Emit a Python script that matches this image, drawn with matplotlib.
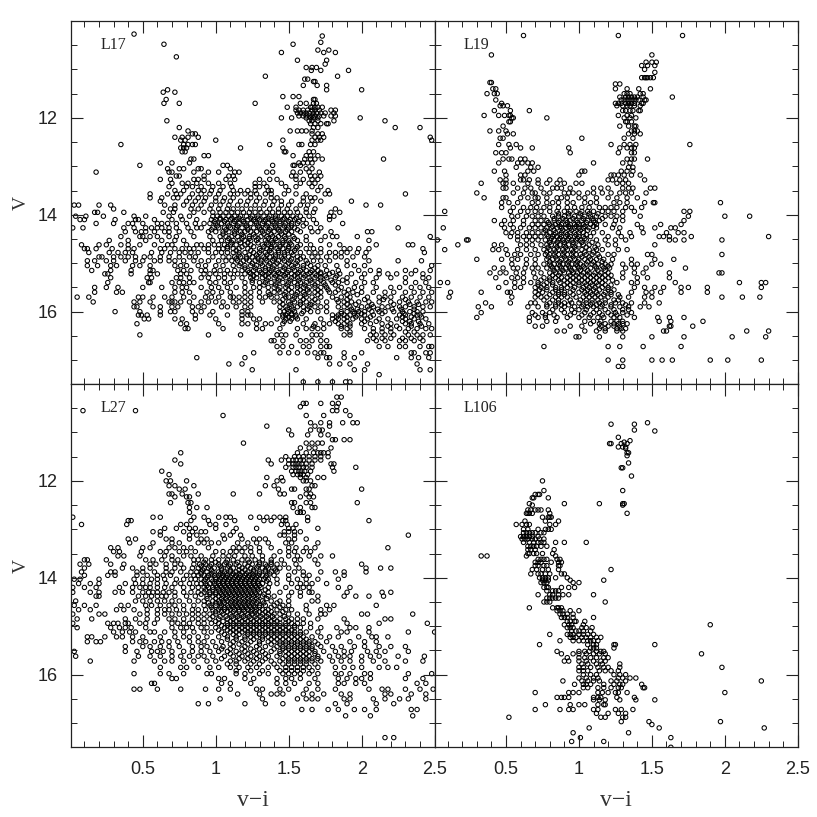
import matplotlib
matplotlib.use("Agg")
import matplotlib.pyplot as plt
from matplotlib.ticker import MultipleLocator, FixedLocator, FuncFormatter

# Each dict: V magnitude -> list of v-i colours
l17 = {
10.27:[0.44],10.31:[1.73],10.44:[1.72],10.48:[0.645,1.53],10.6:[1.70,1.775],10.65:[1.45,1.74,1.82],10.74:[0.73],10.81:[1.56,1.76],10.89:[1.75],
10.96:[1.62,1.69,1.66],11.02:[1.655,1.72,1.91],11.14:[1.34,1.835],11.2:[1.61,1.63],11.25:[1.67,1.68],11.33:[1.6,1.695,1.76],11.42:[0.67,2.0,1.76],
11.47:[0.64,0.72],11.56:[1.46,1.53,1.57],11.62:[0.66,1.68,1.67],11.7:[0.645,0.75,1.27,1.58,1.62,1.67,1.69],11.78:[1.49,1.68,1.55,1.65,1.66,1.7,1.73],
11.84:[1.55,1.57,1.6,1.63,1.66,1.68,1.71,1.82,1.79],11.9:[1.56,1.58,1.6,1.62,1.64,1.67,1.69,1.72,1.75,1.81],11.96:[1.57,1.6,1.62,1.64,1.66,1.68,1.71,1.74,1.82,1.79],
12.0:[1.45,1.52,1.62,1.65,1.67,1.7,1.99],12.06:[0.665,1.64,1.66,1.7,2.16,1.81],12.12:[1.65,1.68,1.72,1.77,1.76],12.2:[0.75,1.67,1.7,2.23,2.4],
12.27:[1.51,1.56,1.59,1.62,1.66,0.81],12.33:[0.84,0.86,1.66,1.7,1.73],12.4:[0.72,0.77,0.81,0.88,1.68,1.71,1.74,2.47],12.46:[0.76,0.79,1.46,1.66,1.7,1.72,1.0,2.48],
12.55:[0.35,0.78,0.81,0.84,0.86,1.37,1.57,1.59,1.65,1.68],12.62:[0.76,0.78,0.8,1.46,1.17],12.7:[0.77,0.79,1.47,1.48,1.64,1.67],12.78:[0.92,0.95,1.53,1.62,1.65,1.7],
12.85:[0.83,0.85,1.61,1.65,1.68,2.15,1.73],12.93:[0.62,0.7,0.82,1.57,1.6,1.63,1.66],12.98:[0.48,1.39,1.53,1.05,1.08,1.54,1.58],13.05:[0.67,0.75,0.78,0.88,0.9,1.62,1.66,1.1],
13.12:[0.18,0.68,0.7,0.85,0.95,1.02,1.13,1.16,1.35,1.39,1.53,1.58,1.64,1.71],13.2:[0.73,0.75,0.92,1.09,1.12,1.52,1.55,1.65,1.68,1.72],
13.27:[0.62,0.69,0.85,0.88,0.92,1.07,1.13,1.3,1.37,1.42,1.55,1.6,1.66,1.7],13.35:[0.7,0.77,0.81,0.87,0.95,1.02,1.1,1.27,1.33,1.45,1.58,1.64,1.68],
13.42:[0.68,0.8,0.84,0.9,0.98,1.05,1.11,1.27,1.3,1.35,1.48,1.55,1.66,1.72],13.5:[0.72,0.78,0.88,0.92,0.97,1.03,1.12,1.17,1.22,1.27,1.36,1.38,1.5,1.7,1.77],
13.57:[0.55,0.67,0.73,0.76,0.84,0.9,0.96,1.02,1.1,1.15,1.2,1.24,1.28,1.34,1.38,1.47,1.55,1.62,1.75,1.78,2.3],13.65:[0.55,0.63,0.71,0.74,0.82,0.88,0.93,1.0,1.06,1.12,1.24,1.3,1.38,1.42,1.6,1.65,1.68],
13.72:[0.62,0.8,0.86,0.92,1.0,1.05,1.1,1.17,1.22,1.28,1.34,1.4,1.45,1.52,1.6,1.66,1.72,1.93],13.8:[0.03,0.06,0.2,0.28,0.65,0.72,0.78,0.84,0.9,0.97,1.03,1.09,1.15,1.21,1.27,1.33,1.39,1.45,1.5,1.58,1.63,2.03,2.13],
13.88:[0.3,0.69,0.72,0.83,0.88,0.96,1.02,1.08,1.12,1.18,1.24,1.3,1.37,1.43,1.49,1.55,1.62,1.68,1.82],13.95:[0.17,0.19,0.37,0.64,0.71,0.85,0.92,0.98,1.03,1.07,1.11,1.15,1.19,1.23,1.27,1.31,1.35,1.39,1.43,1.47,1.51,1.56,1.62,1.67,1.79,1.85],
14.03:[0.04,0.11,0.23,0.44,0.52,0.68,0.76,0.82,0.98,1.01,1.05,1.09,1.13,1.17,1.21,1.25,1.29,1.33,1.37,1.41,1.45,1.49,1.53,1.58,1.64,1.78,1.81],
14.1:[0.07,0.1,0.31,0.45,0.47,0.58,0.7,0.77,0.87,0.97,1.0,1.03,1.07,1.1,1.14,1.18,1.22,1.26,1.3,1.34,1.38,1.42,1.46,1.51,1.54,1.6,1.67,1.78],
14.18:[0.18,0.3,0.4,0.43,0.5,0.6,0.63,0.67,0.73,0.8,0.86,0.92,0.96,1.0,1.04,1.08,1.12,1.16,1.2,1.24,1.28,1.32,1.36,1.4,1.44,1.48,1.52,1.56,1.62,1.69,1.87],
14.27:[0.02,0.09,0.37,0.44,0.52,0.56,0.6,0.63,0.68,0.73,0.81,0.87,0.9,0.98,1.02,1.06,1.1,1.14,1.18,1.22,1.26,1.3,1.34,1.38,1.42,1.46,1.5,1.54,1.65,1.72,2.25],
14.35:[0.38,0.45,0.49,0.52,0.58,0.65,0.68,0.75,0.83,0.95,1.0,1.05,1.09,1.13,1.17,1.2,1.24,1.28,1.32,1.36,1.4,1.44,1.48,1.52,1.58,1.66,1.7,1.79,2.07,2.04],
14.45:[0.35,0.48,0.5,0.55,0.6,0.68,0.73,0.85,0.96,1.03,1.07,1.11,1.15,1.19,1.23,1.27,1.31,1.35,1.39,1.43,1.47,1.53,1.62,1.75,1.8,1.83,1.97,2.47],
14.53:[0.27,0.4,0.52,0.63,0.72,0.78,0.98,1.04,1.08,1.12,1.16,1.2,1.24,1.28,1.34,1.38,1.42,1.46,1.5,1.56,1.62,1.72,2.05],
14.62:[0.08,0.2,0.25,0.35,0.4,0.48,0.58,0.67,0.7,0.8,0.87,0.9,0.95,0.99,1.02,1.06,1.1,1.14,1.2,1.24,1.32,1.36,1.4,1.44,1.48,1.52,1.58,1.65,1.78,1.85,2.1,2.32,2.35],
14.7:[0.1,0.12,0.18,0.29,0.4,0.44,0.62,0.65,0.72,0.77,0.82,0.85,0.92,0.95,1.02,1.05,1.08,1.12,1.16,1.22,1.3,1.35,1.38,1.42,1.46,1.5,1.55,1.62,1.67,1.72,1.88,1.92,1.98,2.05,2.42],
14.78:[0.13,0.27,0.33,0.38,0.43,0.56,0.63,0.69,0.75,0.79,0.83,0.88,0.95,1.0,1.04,1.08,1.12,1.16,1.2,1.26,1.3,1.34,1.38,1.43,1.47,1.52,1.58,1.64,1.68,1.72,1.78,1.82,1.86,1.9,1.97,2.03,2.43],
14.87:[0.2,0.22,0.3,0.35,0.4,0.45,0.51,0.55,0.62,0.68,0.75,0.82,0.86,0.98,1.05,1.09,1.13,1.17,1.21,1.25,1.29,1.33,1.37,1.41,1.45,1.5,1.56,1.6,1.66,1.7,1.76,1.82,1.86,1.94,2.02],
14.95:[0.12,0.17,0.25,0.3,0.38,0.45,0.5,0.58,0.62,0.68,0.72,0.78,0.85,0.9,0.95,1.02,1.07,1.11,1.15,1.19,1.23,1.27,1.31,1.35,1.39,1.43,1.47,1.51,1.56,1.62,1.67,1.72,1.78,1.9,2.05,2.25,2.41],
15.05:[0.12,0.19,0.28,0.32,0.43,0.48,0.55,0.72,0.76,0.8,0.88,0.93,1.0,1.05,1.12,1.16,1.2,1.24,1.28,1.32,1.36,1.4,1.44,1.48,1.52,1.56,1.6,1.65,1.7,1.75,1.83,1.9,1.95,2.02,2.48],
15.15:[0.15,0.28,0.42,0.55,0.57,0.74,0.78,0.83,0.9,0.93,0.99,1.03,1.08,1.13,1.18,1.22,1.26,1.3,1.34,1.38,1.42,1.46,1.5,1.54,1.58,1.62,1.66,1.7,1.76,1.84,1.98,2.06,2.12,2.3,2.37,2.47],
15.22:[0.24,0.26,0.42,0.55,0.6,0.76,0.8,0.92,0.96,1.0,1.06,1.1,1.15,1.2,1.24,1.28,1.32,1.36,1.4,1.44,1.48,1.52,1.56,1.6,1.64,1.68,1.72,1.78,1.85,1.93,2.02,2.12,2.18,2.24,2.34,2.42],
15.3:[0.28,0.53,0.56,0.73,0.76,0.82,0.9,0.95,1.02,1.06,1.12,1.18,1.24,1.28,1.32,1.36,1.4,1.44,1.48,1.52,1.56,1.6,1.64,1.68,1.72,1.76,1.82,1.9,2.0,2.1,2.2,2.3,2.42,2.46],
15.4:[0.26,0.54,0.55,0.7,0.75,0.78,0.82,0.85,0.96,1.0,1.06,1.1,1.2,1.25,1.3,1.34,1.38,1.42,1.46,1.5,1.54,1.58,1.62,1.66,1.7,1.74,1.8,1.84,1.9,1.96,2.02,2.08,2.3,2.37,2.44],
15.5:[0.17,0.25,0.33,0.5,0.63,0.72,0.77,0.8,0.9,0.97,1.02,1.08,1.14,1.2,1.26,1.3,1.36,1.4,1.44,1.48,1.52,1.56,1.6,1.64,1.68,1.72,1.76,1.86,1.95,2.0,2.1,2.2,2.26,2.34,2.4,2.46],
15.6:[0.17,0.32,0.36,0.72,0.77,0.82,0.94,0.98,1.04,1.1,1.2,1.24,1.3,1.36,1.4,1.44,1.48,1.52,1.56,1.6,1.64,1.68,1.72,1.78,1.82,1.88,1.94,2.0,2.08,2.16,2.22,2.3,2.36,2.42,2.48],
15.7:[0.05,0.13,0.47,0.5,0.57,0.65,0.7,0.78,0.85,0.93,0.97,1.02,1.1,1.12,1.16,1.2,1.24,1.3,1.34,1.38,1.42,1.48,1.5,1.54,1.58,1.62,1.66,1.72,1.8,1.86,1.92,2.04,2.12,2.16,2.2,2.28,2.34,2.4,2.46],
15.8:[0.16,0.44,0.48,0.55,0.68,0.7,0.72,0.76,0.82,0.9,0.95,1.0,1.05,1.12,1.16,1.2,1.24,1.32,1.4,1.44,1.5,1.54,1.58,1.62,1.66,1.7,1.76,1.84,1.88,1.93,1.98,2.05,2.12,2.2,2.26,2.32,2.38,2.44,2.48],
15.9:[0.44,0.46,0.57,0.62,0.7,0.74,0.84,0.88,0.92,1.04,1.08,1.14,1.2,1.24,1.44,1.48,1.52,1.56,1.6,1.64,1.68,1.72,1.76,1.84,1.88,1.92,2.0,2.04,2.08,2.14,2.18,2.26,2.3,2.36,2.42,2.47],
16.0:[0.31,0.48,0.62,0.69,0.72,0.84,0.9,0.98,1.18,1.22,1.44,1.47,1.5,1.54,1.6,1.65,1.7,1.76,1.86,1.9,1.94,1.98,2.02,2.07,2.12,2.16,2.22,2.28,2.33,2.38,2.42],
16.07:[0.47,0.49,0.53,0.62,0.86,0.96,1.08,1.18,1.22,1.24,1.46,1.48,1.52,1.55,1.8,1.84,1.88,1.92,1.97,2.02,2.08,2.26,2.3,2.38,2.4],
16.15:[0.51,0.54,0.72,0.77,0.86,1.0,1.18,1.26,1.3,1.42,1.48,1.52,1.56,1.62,1.72,1.8,1.84,1.88,1.94,2.0,2.04,2.12,2.18,2.24,2.3,2.36,2.44],
16.25:[0.46,0.76,0.8,1.02,1.18,1.22,1.28,1.34,1.38,1.46,1.6,1.68,1.74,1.78,1.84,1.88,1.92,2.0,2.06,2.14,2.2,2.3,2.34,2.4,2.46],
16.35:[0.79,0.81,1.05,1.28,1.32,1.44,1.56,1.62,1.66,1.7,1.74,1.86,1.9,2.02,2.08,2.14,2.2,2.26,2.32,2.38,2.44,2.48],
16.48:[0.48,0.95,1.17,1.42,1.45,1.48,1.55,1.66,1.69,1.72,1.88,1.92,2.06,2.1,2.16,2.22,2.32,2.38,2.42,2.47],
16.6:[1.38,1.4,1.46,1.58,1.62,1.66,1.72,1.76,2.04,2.1,2.16,2.26,2.3,2.36,2.42],
16.72:[1.42,1.46,1.52,1.6,1.64,1.72,1.76,1.78,2.12,2.18,2.26,2.3,2.4,2.46,2.48],
16.85:[1.26,1.44,1.5,1.56,1.63,1.68,1.72,1.74,1.88,2.0,2.34,2.36,2.44,2.47],
16.95:[0.87,1.2,1.7,1.76,1.78,1.88,1.95,2.24,2.34,2.39,2.46],
17.08:[1.09,1.18,1.78,1.85,1.92,2.04,2.38],17.2:[1.25,1.55,1.95,2.02,2.47,2.4],17.3:[2.12],17.45:[1.6,1.7,1.8,1.89,1.92],
}
l17_core = {
14.07:[1.03,1.11,1.16,1.24,1.29,1.36,1.41,1.47,1.55],14.14:[0.99,1.06,1.13,1.19,1.27,1.33,1.39,1.44,1.5,1.57],14.23:[1.01,1.09,1.15,1.21,1.29,1.35,1.41,1.47,1.52,1.6],
14.31:[0.97,1.07,1.14,1.22,1.31,1.37,1.43,1.49,1.56],14.4:[1.05,1.13,1.18,1.26,1.33,1.38,1.45,1.5],14.49:[1.09,1.18,1.23,1.29,1.36,1.41,1.48,1.54],
14.58:[1.11,1.17,1.22,1.29,1.35,1.39,1.46,1.51],14.66:[1.08,1.18,1.26,1.33,1.38,1.44,1.5,1.56],14.74:[1.14,1.24,1.31,1.37,1.43,1.49,1.54],14.83:[1.16,1.23,1.28,1.35,1.41,1.47,1.53],
14.91:[1.14,1.21,1.29,1.34,1.4,1.46,1.52,1.58],15.0:[1.17,1.25,1.31,1.37,1.42,1.5,1.55,1.63],15.1:[1.2,1.27,1.34,1.39,1.47,1.53,1.6,1.68],15.19:[1.23,1.31,1.37,1.43,1.49,1.57,1.65,1.72,1.8],
15.26:[1.26,1.34,1.41,1.47,1.54,1.61,1.69,1.75,1.83],15.35:[1.25,1.35,1.43,1.51,1.57,1.65,1.72,1.79,1.87],15.45:[1.33,1.41,1.49,1.56,1.61,1.68,1.75,1.82],
15.55:[1.43,1.5,1.58,1.63,1.7,1.77,1.84,1.91],15.65:[1.37,1.47,1.55,1.61,1.7,1.9,1.97],15.75:[1.46,1.53,1.6,1.68,1.83,1.9,2.02,2.15,2.3],15.85:[1.46,1.51,1.58,1.65,1.9,1.96,2.07,2.22,2.33,2.39],
15.95:[1.49,1.53,1.63,1.93,1.97,2.05,2.11,2.21,2.27,2.36],16.04:[1.49,1.52,1.59,1.86,1.95,2.0,2.14,2.29,2.36],16.11:[1.46,1.5,1.55,1.83,1.9,1.96,2.06,2.28,2.34,2.41],
16.2:[1.47,1.51,1.82,1.9,2.02,2.1,2.28,2.33,2.39],16.3:[1.67,1.86,1.92,2.18,2.24,2.34,2.41],16.42:[1.92,2.08,2.14,2.2,2.3,2.36],16.55:[2.08,2.14,2.2,2.28,2.34,2.4],
}

l19 = {
10.3:[0.62,1.27,1.71],10.7:[0.4,1.5],10.85:[1.46,1.53,1.5],10.92:[1.43,1.47,1.52],11.0:[1.45],11.06:[1.52],11.17:[1.45,1.47,1.49,1.43,1.46,1.51],
11.27:[0.39,0.4],11.3:[1.28,1.25],11.4:[0.41,0.43,1.25,1.33,1.49,1.41],11.5:[0.37,0.42,0.44,1.31,1.33,1.35,1.42,1.44],11.57:[1.28,1.32,1.34,1.36,1.38,1.4,1.44,1.64],
11.63:[0.43,1.29,1.31,1.33,1.35,1.37,1.39,1.41,1.45,1.46],11.7:[0.47,1.25,1.27,1.29,1.32,1.34,1.36,1.38,1.43,1.44],11.75:[0.46,0.48,0.51,1.26,1.3,1.33,1.35,1.38,1.42],
11.85:[0.42,0.66,0.53,1.3,1.32,1.35,1.37,1.42,1.41],11.95:[0.35,0.45,0.49,0.52,0.53,1.27,1.33,1.36],12.0:[0.54,0.55,0.78,1.31,1.35,1.39],
12.08:[0.52,0.53,1.32,1.36,1.33],12.17:[0.48,1.28,1.34,1.38,1.39],12.27:[0.39,0.45,0.5,1.38,1.36,1.4],12.33:[0.51,0.55,1.34,1.38,1.42],12.42:[0.48,1.02,1.31,1.37,0.46],
12.55:[0.45,0.52,0.57,1.22,1.76,1.31,1.35,1.39],12.62:[0.53,0.6,0.68,0.93,1.28,1.33,1.36,1.38],12.72:[0.43,0.47,0.5,0.94,1.27,1.36,1.38],
12.85:[0.48,0.52,0.54,0.6,0.63,1.33,1.36,1.38,1.47],12.93:[0.45,0.58,0.61,0.65,0.68,1.1,1.3,1.35],13.02:[0.57,0.67,0.72,1.34,1.37],13.1:[0.42,0.49,0.65,0.69,1.02,1.04,1.29,1.33,1.37],
13.18:[0.5,0.6,0.63,1.0,1.22,1.24,1.27,1.31,1.36,1.42],13.28:[0.46,0.5,0.6,0.62,0.66,0.72,0.8,0.87,1.2,1.23,1.28,1.32,1.45],13.35:[0.33,0.48,0.5,0.55,0.65,0.72,0.78,0.85,0.9,0.98,1.02,1.26,1.3,1.34],
13.45:[0.48,0.5,0.58,0.63,0.67,0.74,0.82,0.85,0.88,0.94,1.1,1.15,1.2,1.3,1.34,1.37,1.49,1.52],13.55:[0.3,0.55,0.62,0.68,0.7,0.76,0.8,0.9,0.93,0.96,1.0,1.06,1.1,1.16,1.22,1.28,1.32,1.36,1.46],
13.65:[0.35,0.48,0.5,0.6,0.65,0.7,0.72,0.78,0.85,0.88,0.92,1.0,1.04,1.12,1.2,1.26,1.33,1.4],13.75:[0.47,0.52,0.58,0.68,0.72,0.78,0.82,0.86,0.92,0.96,1.04,1.08,1.12,1.24,1.28,1.33,1.45,1.51,1.52,1.97],
13.85:[0.47,0.55,0.62,0.67,0.71,0.76,0.8,0.86,0.92,0.97,1.02,1.07,1.14,1.18,1.22,1.26,1.32,1.36,1.43],13.93:[0.08,0.53,0.6,0.65,0.7,0.74,0.8,0.85,0.9,0.94,0.98,1.02,1.06,1.1,1.16,1.2,1.24,1.3,1.38,1.72,1.76],
14.03:[0.54,0.58,0.64,0.68,0.72,0.76,0.82,0.86,0.9,0.93,0.97,1.0,1.04,1.08,1.12,1.18,1.22,1.26,1.3,1.42,1.75,2.0,2.17],
14.12:[0.42,0.49,0.55,0.62,0.7,0.74,0.78,0.83,0.87,0.91,0.94,0.98,1.02,1.06,1.1,1.14,1.25,1.3,1.72],14.2:[0.47,0.53,0.62,0.68,0.72,0.76,0.8,0.84,0.88,0.91,0.94,0.97,1.0,1.03,1.08,1.12,1.18,1.24,1.4,1.56,1.7],
14.27:[0.07,0.49,0.55,0.6,0.66,0.7,0.74,0.78,0.81,0.85,0.88,0.91,0.94,0.97,1.0,1.03,1.07,1.12,1.23,1.28,1.43,1.52,1.63,1.66],14.37:[0.5,0.54,0.58,0.64,0.68,0.72,0.76,0.8,0.84,0.88,0.91,0.94,0.97,1.0,1.03,1.1,1.16,1.27,1.35,1.44,1.6,1.68,1.72],
14.45:[0.53,0.58,0.62,0.66,0.7,0.74,0.79,0.82,0.85,0.88,0.91,0.94,0.97,1.0,1.03,1.08,1.2,1.29,1.36,1.55,1.58,1.62,1.77,2.3],14.52:[0.03,0.23,0.24,0.58,0.64,0.68,0.72,0.77,0.8,0.83,0.86,0.89,0.92,0.95,0.98,1.01,1.05,1.12,1.18,1.25,1.32,1.62,1.66,1.72,1.98],
14.62:[0.17,0.42,0.47,0.6,0.64,0.68,0.74,0.78,0.81,0.84,0.87,0.9,0.93,0.96,1.0,1.03,1.07,1.13,1.2,1.25,1.52],14.72:[0.08,0.41,0.45,0.5,0.58,0.64,0.7,0.76,0.8,0.83,0.86,0.89,0.92,0.95,0.98,1.02,1.07,1.12,1.16,1.27,1.33],
14.82:[0.51,0.56,0.6,0.67,0.72,0.77,0.8,0.83,0.86,0.89,0.92,0.95,0.98,1.01,1.05,1.09,1.13,1.2,1.24,1.47,1.5,1.98],14.92:[0.3,0.47,0.54,0.58,0.64,0.7,0.78,0.82,0.85,0.88,0.91,0.94,0.97,1.0,1.04,1.08,1.12,1.17,1.23,1.36,1.52,1.65],
15.02:[0.54,0.64,0.7,0.76,0.8,0.83,0.86,0.89,0.92,0.95,0.98,1.01,1.05,1.09,1.13,1.18,1.22,1.3,1.36,1.4,1.5,1.56],15.1:[0.42,0.48,0.55,0.58,0.63,0.68,0.72,0.78,0.82,0.85,0.88,0.91,0.94,0.97,1.0,1.04,1.08,1.12,1.17,1.21,1.32,1.38,1.46,1.73],
15.2:[0.39,0.46,0.5,0.57,0.62,0.69,0.74,0.8,0.84,0.87,0.9,0.93,0.96,0.99,1.03,1.07,1.11,1.15,1.2,1.3,1.38,1.44,1.62,1.96,1.98],15.3:[0.43,0.54,0.58,0.62,0.7,0.76,0.8,0.84,0.88,0.92,0.96,1.0,1.04,1.08,1.12,1.16,1.2,1.3,1.4,1.47,1.62],
15.4:[0.05,0.1,0.5,0.56,0.62,0.67,0.72,0.78,0.82,0.87,0.92,0.96,1.0,1.04,1.08,1.12,1.16,1.26,1.36,1.4,1.66,2.1,2.28,2.25],15.5:[0.45,0.56,0.6,0.7,0.74,0.78,0.84,0.88,0.92,0.97,1.03,1.07,1.11,1.16,1.2,1.38,1.45,1.52,1.58,1.7,1.75,1.88,2.25],
15.6:[0.12,0.33,0.51,0.53,0.7,0.75,0.82,0.86,0.9,0.94,1.0,1.04,1.08,1.12,1.18,1.22,1.36,1.46,1.5,1.56,1.7,1.88],15.7:[0.11,0.54,0.7,0.74,0.78,0.84,0.88,0.92,0.98,1.03,1.07,1.11,1.15,1.2,1.28,1.34,1.45,1.5,1.98,2.12,2.24],
15.82:[0.36,0.53,0.67,0.7,0.8,0.86,0.9,0.95,1.0,1.05,1.09,1.14,1.18,1.25,1.3,1.36,1.45,1.55],15.9:[0.31,0.4,0.65,0.72,0.78,0.84,0.9,0.97,1.02,1.06,1.1,1.15,1.22,1.28,1.34,1.42,1.48],
16.02:[0.33,0.68,0.75,0.8,0.9,0.97,1.04,1.1,1.14,1.2,1.25,1.3,1.36],16.12:[0.3,0.66,0.72,0.77,0.85,0.92,1.0,1.07,1.13,1.17,1.24,1.28,1.38,1.54,1.62,1.72],
16.2:[0.66,0.78,0.84,1.04,1.1,1.15,1.22,1.26,1.3,1.55,1.63,1.85],16.3:[0.7,0.75,0.94,1.02,1.15,1.2,1.24,1.28,1.63,1.78,1.62],16.4:[0.85,0.9,1.04,1.12,1.18,1.26,1.3,1.6,1.58,2.15,2.3],
16.52:[0.98,1.0,1.14,1.3,1.5,2.05,2.28,1.72],16.72:[0.76,1.2,1.28,1.44,1.7],17.0:[1.2,1.3,1.5,1.57,1.64,1.9,2.02,2.25],17.13:[1.3,1.27],
}
l19_core = {
13.98:[0.86,0.93,1.01,1.07,1.13],14.08:[0.83,0.89,0.96,1.03,1.09,1.16],14.16:[0.79,0.86,0.92,0.99,1.05,1.11],14.24:[0.82,0.87,0.93,0.98,1.04,1.1],14.32:[0.77,0.83,0.89,0.95,1.01,1.06],
14.41:[0.78,0.83,0.87,0.92,0.98,1.05],14.49:[0.81,0.87,0.93,0.99,1.04],14.57:[0.8,0.85,0.9,0.96,1.02,1.09],14.67:[0.79,0.85,0.91,0.97,1.05,1.11],14.77:[0.78,0.84,0.9,0.96,1.04,1.1],
14.87:[0.79,0.84,0.9,0.96,1.02,1.07,1.14],14.97:[0.8,0.87,0.93,0.99,1.06,1.1,1.16],15.06:[0.81,0.87,0.93,0.99,1.03,1.11,1.16,1.2],15.15:[0.83,0.89,0.95,1.01,1.06,1.13,1.18],
15.25:[0.82,0.86,0.94,0.98,1.02,1.06,1.1,1.14,1.18,1.22],15.35:[0.74,0.8,0.86,0.9,0.94,0.98,1.02,1.06,1.1,1.14,1.18,1.23],15.45:[0.72,0.76,0.82,0.9,0.94,1.0,1.05,1.09,1.13,1.18,1.22],
15.55:[0.73,0.78,0.84,0.88,0.96,1.02,1.06,1.1,1.14,1.2,1.24],15.65:[0.72,0.8,0.86,0.9,0.96,1.05,1.09,1.13,1.17,1.22,1.27],15.76:[0.76,0.82,0.86,0.94,1.01,1.05,1.09,1.13,1.18,1.24,1.27],
15.86:[0.78,0.84,0.88,0.93,1.03,1.08,1.12,1.16,1.22,1.32],15.96:[0.82,0.88,0.95,1.0,1.05,1.12,1.18,1.24,1.3,1.34],16.07:[0.7,0.77,0.83,0.94,1.02,1.08,1.16,1.22,1.26,1.33],
16.25:[1.08,1.14,1.18,1.24,1.27,1.3,1.33],16.35:[1.14,1.18,1.26,1.29,1.32],
}

l27 = {
10.27:[1.83,1.86],10.4:[1.6,1.62,1.72,1.8,1.84],10.47:[1.58,1.83],10.55:[0.09,0.45,1.8,1.83,1.89],10.65:[1.05,1.62,1.74,1.92],10.8:[1.65,1.72,1.78,1.87,1.94,1.97],
10.87:[1.35,1.68,1.78],10.95:[1.5,1.65,1.71,1.73],11.05:[1.52,1.63,1.72,1.77],11.15:[1.8,1.82,1.88,1.92],11.22:[1.19,1.62,1.66,1.7,1.73],11.32:[1.58,1.64,1.68,1.79],
11.42:[0.76,1.56,1.62,1.67,1.7,1.72,1.74,1.77],11.5:[1.48,1.54,1.57,1.6,1.64,1.68,1.72,1.77],11.57:[0.72,1.36,1.45,1.5,1.53,1.55,1.58,1.6,1.64,1.68,1.72],
11.65:[0.76,1.38,1.5,1.53,1.55,1.57,1.59,1.62,1.66,1.79,1.81],11.72:[1.48,1.53,1.55,1.57,1.6,1.62,1.66,1.8,1.96],11.8:[0.63,1.52,1.55,1.57,1.59,1.61,1.65,1.81],
11.87:[0.68,1.53,1.56,1.58,1.6,1.63],11.93:[1.35,1.45,1.58,1.62,1.7,1.74],12.0:[0.66,0.69,0.8,1.42,1.46,1.6,1.62,1.65],12.1:[0.68,0.72,0.85,1.34,1.4,1.66,1.68],
12.17:[0.75,0.79,1.43,1.52,1.54,1.62,1.64,2.0],12.27:[0.68,0.7,0.77,1.12,1.3,1.44,1.47,1.62,1.65,0.88],12.33:[0.72,0.8,0.82,1.58,1.64,1.67],12.45:[0.69,0.81,0.83,1.52,1.54,1.62,1.65,1.97],
12.55:[0.82,0.87,0.94,1.53,1.58,1.66,1.68],12.65:[0.82,1.56,1.58,1.6],12.75:[0.02,0.57,0.62,0.85,0.92,1.02,1.07,1.1,1.24,1.3,1.35,1.4,1.44,1.48,1.63],
12.82:[0.4,0.42,0.83,0.95,1.13,1.33,1.38,1.46,1.48,1.63,2.05],12.9:[0.08,0.39,0.76,0.8,0.96,1.0,1.07,1.45,1.49,1.55],12.98:[0.65,0.73,0.82,0.86,1.0,1.14,1.28,1.5,1.53,1.7],
13.05:[0.57,0.62,0.78,0.84,0.9,0.93,1.12,1.47,1.5,1.54,1.58],13.12:[0.62,0.82,0.87,1.05,1.1,1.17,1.44,1.47,1.54,2.32],13.2:[0.4,0.45,0.66,0.7,0.82,0.9,0.94,1.06,1.18,1.26,1.3,1.34,1.5,1.54,1.62],
13.28:[0.41,0.57,0.7,0.75,0.88,0.92,0.97,1.02,1.15,1.22,1.28,1.36,1.48,1.52,1.7],13.38:[0.28,0.33,0.5,0.55,0.68,0.72,0.78,0.83,0.95,1.12,1.16,1.2,1.24,1.3,1.38,1.5,1.55,1.62,1.68,2.18],
13.46:[0.3,0.34,0.49,0.62,0.66,0.75,0.8,0.86,1.0,1.05,1.1,1.14,1.18,1.24,1.3,1.44,1.5,1.54,1.6,1.65],13.55:[0.33,0.37,0.48,0.65,0.7,0.78,0.83,0.9,0.98,1.05,1.09,1.13,1.2,1.25,1.32,1.4,1.5,1.56,1.64,1.72,1.8],
13.63:[0.1,0.12,0.25,0.52,0.57,0.63,0.7,0.74,0.85,0.88,0.93,0.97,1.02,1.08,1.12,1.18,1.22,1.27,1.32,1.38,1.45,1.54,1.58,1.68],13.72:[0.07,0.13,0.28,0.37,0.55,0.59,0.66,0.72,0.76,0.85,0.89,0.93,0.97,1.02,1.06,1.1,1.14,1.2,1.25,1.3,1.34,1.38,1.42,1.47,1.55,1.7,2.0],
13.8:[0.1,0.36,0.43,0.5,0.55,0.66,0.72,0.78,0.84,0.88,0.92,0.95,0.99,1.04,1.08,1.12,1.18,1.24,1.28,1.32,1.36,1.4,1.44,1.5,1.57,2.03,2.13,2.2],
13.88:[0.08,0.28,0.31,0.46,0.5,0.58,0.66,0.7,0.76,0.83,0.87,0.9,0.94,0.98,1.02,1.06,1.1,1.14,1.18,1.22,1.26,1.3,1.34,1.38,1.42,1.54,1.6,1.72,1.82,1.88,2.03],
13.95:[0.1,0.26,0.31,0.46,0.53,0.6,0.64,0.69,0.8,0.85,0.88,0.92,0.95,0.99,1.02,1.05,1.08,1.11,1.14,1.17,1.2,1.23,1.26,1.29,1.32,1.35,1.4,1.5,1.6,1.64,1.88],
14.03:[0.03,0.07,0.2,0.44,0.5,0.56,0.6,0.65,0.73,0.78,0.83,0.86,0.9,0.93,0.97,1.0,1.03,1.06,1.09,1.12,1.15,1.18,1.21,1.24,1.27,1.3,1.33,1.36,1.42,1.5,1.56,1.62,1.7,1.84],
14.12:[0.06,0.14,0.2,0.38,0.45,0.5,0.55,0.6,0.66,0.72,0.76,0.82,0.87,0.9,0.93,0.96,0.99,1.02,1.05,1.08,1.11,1.14,1.17,1.2,1.23,1.26,1.29,1.32,1.37,1.42,1.52,1.58,1.62,1.66,1.76],
14.2:[0.02,0.1,0.18,0.34,0.43,0.48,0.52,0.55,0.6,0.65,0.7,0.78,0.84,0.88,0.92,0.95,0.98,1.01,1.04,1.07,1.1,1.13,1.16,1.19,1.22,1.25,1.28,1.31,1.36,1.48,1.56,1.6,1.64,1.84,1.92],
14.3:[0.02,0.14,0.2,0.31,0.36,0.43,0.5,0.54,0.57,0.6,0.64,0.68,0.72,0.78,0.83,0.88,0.92,0.96,1.0,1.03,1.06,1.09,1.12,1.15,1.18,1.21,1.24,1.27,1.3,1.36,1.44,1.52,1.58,1.64,1.66,1.9,2.14,2.2],
14.38:[0.18,0.2,0.47,0.52,0.56,0.6,0.63,0.66,0.72,0.8,0.86,0.94,0.98,1.02,1.05,1.08,1.11,1.14,1.17,1.2,1.23,1.26,1.29,1.32,1.36,1.4,1.5,1.58,1.7,1.88,1.96,2.05,2.15],
14.48:[0.04,0.45,0.5,0.55,0.6,0.65,0.7,0.75,0.82,0.88,0.92,0.98,1.02,1.05,1.08,1.11,1.14,1.17,1.2,1.23,1.26,1.29,1.32,1.38,1.44,1.5,1.66,1.7],
14.57:[0.03,0.1,0.18,0.35,0.4,0.52,0.56,0.62,0.68,0.72,0.78,0.85,0.92,0.96,1.0,1.04,1.08,1.11,1.14,1.17,1.2,1.23,1.26,1.3,1.34,1.4,1.46,1.5,1.62,1.76,1.81,2.1],
14.66:[0.06,0.14,0.32,0.37,0.44,0.53,0.6,0.65,0.68,0.73,0.78,0.84,0.88,0.93,0.98,1.02,1.06,1.1,1.13,1.16,1.19,1.22,1.25,1.28,1.32,1.36,1.42,1.48,1.52,1.62,1.72,1.78],
14.75:[0.02,0.2,0.24,0.48,0.53,0.6,0.65,0.7,0.75,0.8,0.84,0.88,0.92,0.96,1.0,1.05,1.1,1.14,1.18,1.22,1.25,1.28,1.32,1.36,1.4,1.44,1.5,1.56,1.64,1.72,1.75,2.0,2.04,2.35],
14.85:[0.05,0.15,0.38,0.45,0.53,0.6,0.68,0.72,0.78,0.84,0.88,0.92,0.96,1.02,1.08,1.12,1.16,1.2,1.24,1.28,1.32,1.36,1.4,1.44,1.48,1.52,1.56,1.6,1.7,1.88,2.16,2.2],
14.94:[0.02,0.26,0.3,0.33,0.38,0.4,0.48,0.52,0.58,0.7,0.74,0.78,0.82,0.88,0.92,0.97,1.02,1.08,1.12,1.16,1.2,1.24,1.28,1.32,1.36,1.4,1.44,1.48,1.52,1.56,1.6,1.65,1.9,2.12,2.45],
15.03:[0.05,0.28,0.34,0.38,0.42,0.52,0.7,0.76,0.8,0.84,0.9,0.94,1.0,1.06,1.1,1.14,1.18,1.22,1.26,1.3,1.34,1.38,1.42,1.46,1.5,1.54,1.58,1.65,1.72,1.83,1.92,1.96,2.05],
15.12:[0.3,0.36,0.41,0.45,0.55,0.58,0.65,0.72,0.78,0.85,0.92,0.97,1.04,1.1,1.14,1.18,1.22,1.26,1.3,1.34,1.38,1.42,1.46,1.5,1.54,1.58,1.62,1.7,1.86,1.9,2.05,2.32,2.5],
15.22:[0.12,0.15,0.24,0.32,0.36,0.43,0.5,0.62,0.72,0.78,0.82,0.88,0.94,1.02,1.08,1.14,1.2,1.24,1.28,1.32,1.36,1.4,1.44,1.48,1.52,1.56,1.6,1.66,1.72,1.78,1.84,1.98,2.07,2.1,2.18],
15.32:[0.18,0.21,0.12,0.43,0.48,0.52,0.58,0.63,0.68,0.74,0.82,0.88,0.92,0.98,1.04,1.12,1.18,1.24,1.3,1.36,1.4,1.44,1.48,1.52,1.56,1.6,1.64,1.68,1.76,1.92,2.02,2.1],
15.42:[0.38,0.5,0.55,0.62,0.68,0.75,0.84,0.9,0.94,1.0,1.05,1.12,1.2,1.28,1.34,1.42,1.46,1.5,1.54,1.58,1.62,1.66,1.72,1.8,1.86,1.95,2.02,2.12,2.2,2.3],
15.52:[0.03,0.38,0.46,0.56,0.6,0.64,0.7,0.78,0.84,0.9,0.96,1.02,1.08,1.14,1.2,1.26,1.32,1.38,1.44,1.48,1.52,1.56,1.6,1.64,1.68,1.74,1.82,1.88,1.93,2.04,2.1,2.16,2.32],
15.62:[0.04,0.47,0.55,0.62,0.7,0.76,0.82,0.88,0.92,0.98,1.06,1.12,1.18,1.24,1.3,1.36,1.42,1.48,1.52,1.56,1.6,1.64,1.7,1.78,1.84,1.88,1.92,2.0,2.06,2.12,2.25,2.43],
15.72:[0.14,0.44,0.58,0.65,0.7,0.78,0.85,0.94,1.0,1.1,1.14,1.2,1.26,1.32,1.38,1.44,1.5,1.54,1.58,1.62,1.66,1.72,1.8,1.86,1.92,2.0,2.08,2.16,2.3,2.42],
15.85:[0.62,0.76,0.8,0.88,0.96,1.02,1.1,1.16,1.22,1.28,1.36,1.42,1.48,1.52,1.56,1.6,1.64,1.7,1.82,1.88,1.94,2.0,2.12,2.18,2.24],
15.98:[0.44,0.62,0.68,0.78,0.94,0.97,1.14,1.2,1.3,1.36,1.46,1.5,1.54,1.58,1.64,1.7,1.82,1.86,1.92,2.02,2.06,2.32,2.48],
16.08:[0.7,0.73,1.02,1.06,1.2,1.26,1.42,1.48,1.52,1.58,1.68,1.84,1.9,1.96,2.0,2.06,2.3,2.42],
16.18:[0.56,0.58,1.04,1.1,1.24,1.42,1.48,1.54,1.64,1.7,1.84,1.88,1.96,2.02,2.38,2.44],
16.3:[0.44,0.48,0.6,0.76,0.93,1.02,1.1,1.28,1.32,1.44,1.5,1.62,1.7,1.82,2.05,2.14,2.18,2.3,2.4,2.49],
16.4:[1.15,1.3,1.38,1.42,1.46,1.6,1.66,1.74,1.86,1.92,2.16,2.2,2.34,2.44],
16.5:[1.03,1.32,1.56,1.62,1.66,1.7,1.88,1.92,2.08,2.16,2.26,2.32,2.44],16.6:[0.88,0.95,1.2,1.34,1.46,1.82,1.9,2.1,2.22],
16.72:[1.59,1.66,1.77,1.84,1.95,2.02,2.1,2.34,2.38],16.85:[1.89,2.06,2.35],17.3:[2.16,2.22],
}
l27_core = {
13.68:[0.92,1.0,1.07,1.15,1.23,1.3,1.38],13.76:[0.9,0.96,1.03,1.09,1.16,1.22,1.29,1.35],13.84:[0.91,0.97,1.04,1.1,1.16,1.2,1.26,1.34,1.41],13.92:[0.9,0.97,1.03,1.07,1.12,1.16,1.21,1.25,1.3,1.37],
13.99:[0.94,1.0,1.04,1.07,1.1,1.13,1.16,1.19,1.22,1.25,1.28,1.34],14.07:[0.92,0.98,1.02,1.05,1.08,1.11,1.14,1.17,1.2,1.23,1.26,1.29,1.35],14.16:[0.94,1.0,1.03,1.06,1.09,1.12,1.15,1.18,1.21,1.24,1.27,1.3],
14.25:[0.93,0.98,1.02,1.05,1.08,1.11,1.14,1.17,1.2,1.23,1.26,1.29,1.34],14.34:[0.9,0.96,1.0,1.04,1.07,1.1,1.13,1.16,1.19,1.22,1.25,1.28,1.33],14.43:[0.94,1.0,1.04,1.07,1.1,1.13,1.16,1.19,1.22,1.25,1.28,1.35],
14.52:[0.95,1.0,1.03,1.06,1.1,1.13,1.16,1.19,1.22,1.25,1.28,1.33,1.42],14.61:[0.97,1.03,1.06,1.09,1.12,1.15,1.18,1.21,1.24,1.27,1.3,1.38,1.44],14.7:[1.0,1.04,1.08,1.12,1.16,1.2,1.24,1.27,1.3,1.34,1.38,1.46],
14.8:[0.98,1.03,1.07,1.11,1.15,1.19,1.23,1.27,1.31,1.35,1.39,1.47],14.9:[1.0,1.05,1.1,1.14,1.18,1.22,1.26,1.3,1.34,1.38,1.42,1.5],14.99:[1.04,1.08,1.12,1.16,1.2,1.24,1.28,1.32,1.36,1.4,1.44,1.48,1.54],
15.08:[1.02,1.08,1.12,1.16,1.2,1.24,1.28,1.32,1.36,1.4,1.44,1.48,1.52],15.17:[1.06,1.12,1.16,1.22,1.26,1.3,1.34,1.38,1.42,1.46,1.5,1.54,1.58],15.27:[1.08,1.14,1.2,1.26,1.32,1.38,1.42,1.46,1.5,1.54,1.58,1.62],
15.37:[1.1,1.16,1.22,1.3,1.38,1.44,1.48,1.52,1.56,1.6,1.64,1.7],15.47:[1.04,1.1,1.18,1.24,1.3,1.4,1.46,1.5,1.54,1.58,1.62,1.66],15.57:[1.1,1.16,1.22,1.28,1.34,1.44,1.5,1.54,1.58,1.62,1.68],
15.67:[1.04,1.16,1.22,1.28,1.34,1.46,1.5,1.54,1.58,1.62,1.66,1.7],15.78:[1.08,1.14,1.24,1.3,1.4,1.46,1.5,1.54,1.58,1.62,1.68],15.92:[1.14,1.24,1.32,1.44,1.48,1.52,1.56,1.6,1.66],
}

l106 = {
10.8:[1.47],10.83:[1.22,1.38],10.95:[1.38],10.97:[1.52],11.1:[1.27],11.17:[1.35],11.2:[1.31],11.23:[1.21,1.22,1.29,1.33],11.3:[1.3,1.32,1.27],11.33:[1.32],
11.42:[1.33,1.34],11.48:[1.33],11.63:[1.34],11.73:[1.29,1.3],11.9:[1.36],12.0:[0.75],12.2:[0.76,1.3],12.28:[0.73,0.7,0.72],12.35:[0.69,0.68,0.79],
12.47:[0.66,0.9,1.14,1.31,1.3],12.5:[0.68,1.3],12.6:[0.65,0.67,0.7,0.72,0.74,0.79],12.67:[0.64,0.65,0.66,0.68,1.33,0.8],12.75:[0.79,0.8,0.81,0.75],12.83:[0.63,0.77,0.86],
12.9:[0.57,0.61,0.64,0.66,0.8,0.84],13.0:[0.62,0.65,0.72,0.77,0.81,0.79],13.07:[0.62,0.64,0.66,0.68,0.7,0.74,0.76],13.15:[0.6,0.62,0.64,0.66,0.68,0.72],
13.2:[0.61,0.63,0.65,0.68,0.7,0.73,0.76],13.27:[0.62,0.66,0.69,0.72,0.74,0.76,0.84,0.9,1.05],13.35:[0.65,0.67,0.69,0.71,0.74,0.78],13.42:[0.65,0.67,0.7,0.83],
13.5:[0.65,0.66,0.69,0.71,0.75,0.82],13.55:[0.33,0.37,0.64,0.84],13.62:[0.72,0.74,0.76,0.78,0.85,0.87],13.68:[0.7,0.72,0.74,0.81,0.86,0.88],13.75:[0.7,0.72,0.76,0.78,0.86,0.87],
13.83:[0.68,0.71,0.75,0.79,0.86,1.22],13.92:[0.67,0.72,0.74,0.77,0.8,0.88,0.9],14.0:[0.73,0.75,0.77,0.79,0.84,0.92],14.05:[0.75,0.77,0.79,0.94,1.17],14.1:[0.74,0.76,0.78,0.96,1.0],
14.2:[0.76,0.78,0.79,0.88,0.93,0.97],14.27:[0.78,0.82,0.84,0.86],14.35:[0.72,0.8,0.82,0.86,0.89,0.93,1.1],14.42:[0.78,0.8,0.82,0.84,0.86],14.5:[0.76,0.78,0.8,1.18],
14.62:[0.66,0.82,0.85,0.86,0.88],14.68:[0.85,0.87,0.89,0.94,1.0],14.75:[0.87,0.89,0.92,0.96],14.82:[0.88,0.9,0.92,0.96,1.1],14.9:[0.92,0.94,0.97,0.98,1.04],
14.97:[0.9,0.93,0.95,1.03,1.9],15.03:[0.92,0.94,0.96,1.02,1.05,1.09],15.1:[0.95,0.98,1.0,1.03,1.08],15.17:[0.8,0.92,0.94,0.96,1.0,1.03,1.06,1.1],
15.23:[0.94,0.96,0.98,1.02,1.05,1.08,1.12,1.15],15.3:[0.87,0.96,1.0,1.03,1.06,1.08,1.1,1.13],15.38:[0.73,1.06,1.1,1.12,1.24,1.25,1.52],15.45:[1.08,1.1,1.12,1.24],
15.52:[0.85,1.0,1.04,1.07,1.12,1.15,1.17],15.57:[0.88,0.96,1.0,1.05,1.1,1.14,1.18,1.84],15.65:[0.92,1.0,1.04,1.08,1.12,1.17,1.2],15.72:[0.9,0.93,1.0,1.05,1.1,1.15,1.18],
15.78:[1.02,1.06,1.12,1.16,1.28],15.85:[1.0,1.03,1.08,1.13,1.17,1.2,1.28,1.98],15.92:[1.0,1.03,1.06,1.14,1.18,1.22,1.27],16.0:[1.03,1.08,1.12,1.24,1.28,1.32],
16.07:[1.0,1.05,1.1,1.13,1.27,1.3,1.35,1.39],16.13:[0.89,1.02,1.06,1.1,1.14,1.22,1.26,1.32,2.25],16.2:[0.97,1.03,1.05,1.08,1.17,1.24,1.28,1.3,1.43],
16.27:[1.03,1.06,1.13,1.17,1.22,1.27,1.29,1.44,1.45],16.37:[0.7,0.93,0.96,1.0,1.13,1.16,1.2,1.25,1.27,1.33,2.0],16.47:[0.85,0.88,0.9,0.93,1.1,1.13,1.15,1.26,1.38],
16.52:[1.1,1.14,1.18,1.28,1.39,1.52],16.62:[0.77,0.94,1.0,1.04,1.13,1.17,1.18],16.72:[0.7,0.87,0.93,0.96,1.1,1.13,1.25,1.29,1.37],
16.8:[1.12,1.2,1.27,1.32],16.88:[0.52,1.15,1.18,1.3,1.32],16.97:[1.29,1.48,1.97],17.03:[1.5],17.1:[1.07,1.55,2.27],17.2:[0.96,1.34],17.3:[1.01,1.63],17.38:[0.95,1.17],17.5:[1.63],
}

labels = ["L17", "L19", "L27", "L106"]
panels = [(l17, l17_core), (l19, l19_core), (l27, l27_core), (l106,)]

W = 817
lefts = [71.3, 434.5, 71.3, 434.5]
tops = [21, 21, 384, 384]
SIZE = 363.3

fig = plt.figure(figsize=(8.17, 8.17), dpi=100)
fmt = FuncFormatter(lambda v, p: f"{v:g}")
for i, (name, groups) in enumerate(zip(labels, panels)):
    ax = fig.add_axes([lefts[i] / W, 1 - (tops[i] + SIZE) / W, SIZE / W, SIZE / W])
    for rows in groups:
        xs = [x for x_list in rows.values() for x in x_list]
        ys = [v for v, x_list in rows.items() for _ in x_list]
        ax.scatter(xs, ys, s=10, facecolors="none", edgecolors="black", linewidths=0.75)
    ax.set_xlim(0.01, 2.5)
    ax.set_ylim(17.5, 10)
    ax.xaxis.set_major_locator(MultipleLocator(0.5))
    ax.xaxis.set_minor_locator(MultipleLocator(0.1))
    ax.yaxis.set_major_locator(FixedLocator([12, 14, 16]))
    ax.yaxis.set_minor_locator(MultipleLocator(0.5))
    ax.tick_params(which="major", direction="in", top=True, right=True, length=8.6, width=0.8, labelsize=13, pad=10, colors="#222222")
    ax.tick_params(which="minor", direction="in", top=True, right=True, length=4.3, width=0.7, colors="#222222")
    ax.xaxis.set_major_formatter(fmt)
    ax.yaxis.set_major_formatter(fmt)
    ax.tick_params(labelbottom=i >= 2, labelleft=i % 2 == 0)
    for lab in ax.get_xticklabels() + ax.get_yticklabels():
        lab.set_family("Liberation Sans")
    for s in ax.spines.values():
        s.set_linewidth(0.9)
        s.set_color("#222222")
    ax.text(0.08, 0.934, name, transform=ax.transAxes, family="Liberation Serif", fontsize=11.5, va="center", color="#222222")
    if i >= 2:
        ax.set_xlabel("v\u2212i", family="Liberation Serif", fontsize=17, color="#333333")
        ax.xaxis.set_label_coords(0.5, -0.118)
    if i % 2 == 0:
        ax.set_ylabel("V", family="Liberation Serif", fontsize=14, color="#333333")
        ax.yaxis.set_label_coords(-0.115, 0.5)
fig.savefig("out.png", dpi=100)
